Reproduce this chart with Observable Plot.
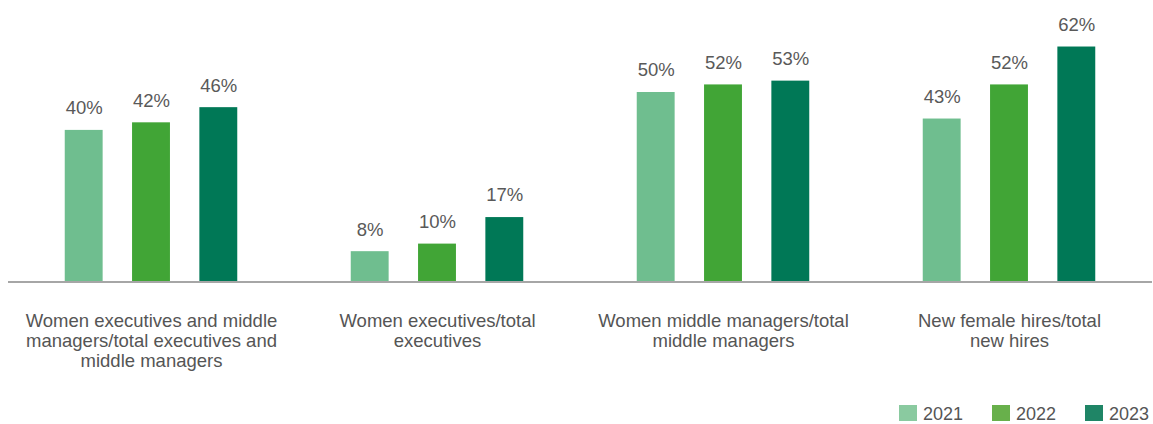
<!DOCTYPE html>
<html>
<head>
<meta charset="utf-8">
<script src="https://cdn.jsdelivr.net/npm/d3@7"></script>
<script src="https://cdn.jsdelivr.net/npm/@observablehq/plot@0.6"></script>
<style>
  html, body { margin: 0; padding: 0; background: #fff; }
  #wrap { width: 1153px; font-family: "Liberation Sans", Arial, Helvetica, sans-serif; }
  #legend { position: relative; height: 24px; width: 1153px; overflow: hidden; }
  .item { position: absolute; top: 5px; height: 19px; display: flex; align-items: flex-start; }
  .sw { width: 18px; height: 16px; }
  .lab { font-size: 18px; color: #555; margin-left: 6px; line-height: 14px; margin-top: 2px; }
</style>
</head>
<body>
<div id="wrap"></div>
<script>
const categories = [
  "Women executives and middle managers/total executives and middle managers",
  "Women executives/total executives",
  "Women middle managers/total middle managers",
  "New female hires/total new hires"
];
const categoryLabels = [
  "Women executives and middle\nmanagers/total executives and\nmiddle managers",
  "Women executives/total\nexecutives",
  "Women middle managers/total\nmiddle managers",
  "New female hires/total\nnew hires"
];
const years = ["2021", "2022", "2023"];
const values2021 = [40, 8, 50, 43];
const values2022 = [42, 10, 52, 52];
const values2023 = [46, 17, 53, 62];
const colors = ["#6fbe8f", "#41a536", "#007856"];
const legendColors = ["#8acaa0", "#68b04b", "#1f8566"];

const series = [values2021, values2022, values2023];
const data = [];
categories.forEach((c, i) => {
  years.forEach((y, j) => data.push({category: c, year: y, value: series[j][i]}));
});
const labelData = categories.map((c, i) => ({category: c, label: categoryLabels[i]}));

const chart = Plot.plot({
  width: 1153,
  height: 400,
  marginLeft: 6,
  marginRight: 0,
  marginTop: 16.2,
  marginBottom: 118.5,
  style: {fontFamily: '"Liberation Sans", Arial, Helvetica, sans-serif', background: "#fff"},
  fx: {domain: categories, padding: 0, axis: null},
  x: {domain: years, paddingInner: 0.437, paddingOuter: 0.843, round: false, axis: null},
  y: {domain: [0, 70], axis: null},
  color: {domain: years, range: colors},
  marks: [
    Plot.barY(data, {fx: "category", x: "year", y: "value", fill: "year"}),
    Plot.ruleY([0], {stroke: "#a6a6a6", strokeWidth: 2}),
    Plot.text(data, {fx: "category", x: "year", y: "value", text: d => d.value + "%",
      dy: -22, fontSize: 18.5, fill: "#595959"}),
    Plot.text(labelData, {fx: "category", text: "label", frameAnchor: "bottom",
      lineAnchor: "top", dy: 31, fontSize: 18.5, lineHeight: 1.08, fill: "#555"})
  ]
});
const wrap = document.getElementById("wrap");
wrap.appendChild(chart);

const legend = document.createElement("div");
legend.id = "legend";
const lefts = [899, 992, 1085];
years.forEach((y, i) => {
  const it = document.createElement("div");
  it.className = "item";
  it.style.left = lefts[i] + "px";
  const sw = document.createElement("div");
  sw.className = "sw";
  sw.style.background = legendColors[i];
  const lab = document.createElement("div");
  lab.className = "lab";
  lab.textContent = y;
  it.appendChild(sw);
  it.appendChild(lab);
  legend.appendChild(it);
});
wrap.appendChild(legend);
</script>
</body>
</html>
